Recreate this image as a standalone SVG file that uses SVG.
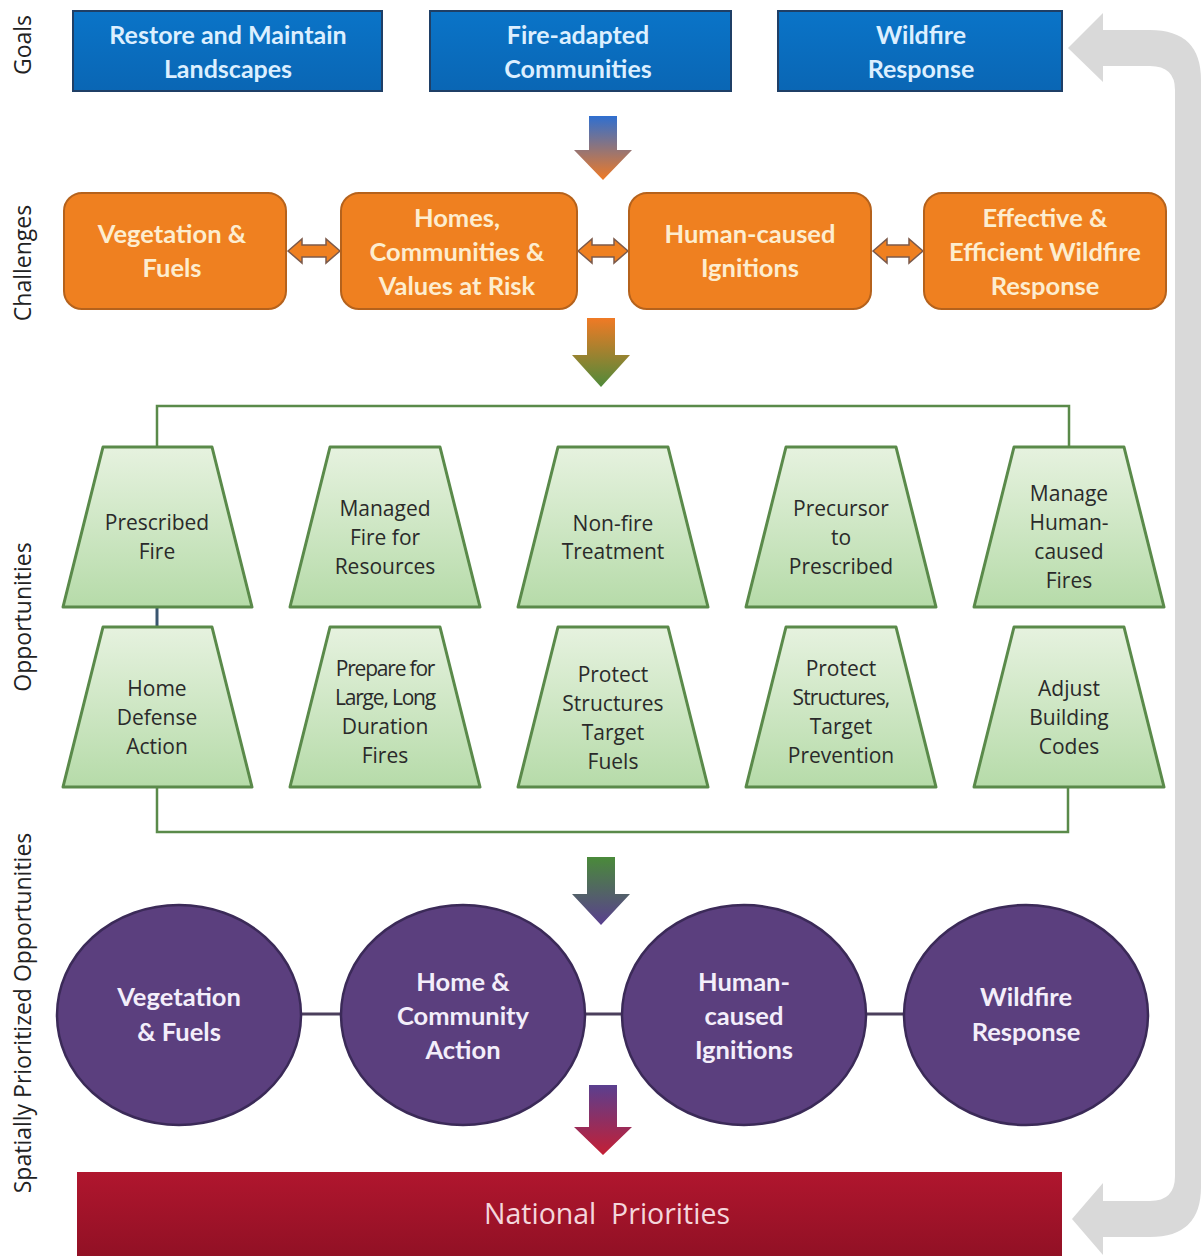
<svg xmlns="http://www.w3.org/2000/svg" width="1203" height="1256" viewBox="0 0 1203 1256">
<defs>
<linearGradient id="gBlueOr" x1="0" y1="0" x2="0" y2="1"><stop offset="0" stop-color="#2f6fd0"/><stop offset="1" stop-color="#f07a25"/></linearGradient>
<linearGradient id="gOrGr" x1="0" y1="0" x2="0" y2="1"><stop offset="0" stop-color="#f07a25"/><stop offset="1" stop-color="#4f8a3a"/></linearGradient>
<linearGradient id="gGrPu" x1="0" y1="0" x2="0" y2="1"><stop offset="0" stop-color="#4a8a3a"/><stop offset="1" stop-color="#5a3f8f"/></linearGradient>
<linearGradient id="gPuRd" x1="0" y1="0" x2="0" y2="1"><stop offset="0" stop-color="#5a3f8f"/><stop offset="1" stop-color="#c41f35"/></linearGradient>
<linearGradient id="gTrap" x1="0" y1="0" x2="0" y2="1"><stop offset="0" stop-color="#e6f2df"/><stop offset="1" stop-color="#b6dba9"/></linearGradient>
<linearGradient id="gGoal" x1="0" y1="0" x2="0" y2="1"><stop offset="0" stop-color="#0a74c8"/><stop offset="1" stop-color="#0a66b4"/></linearGradient>
<linearGradient id="gRed" x1="0" y1="0" x2="0" y2="1"><stop offset="0" stop-color="#b0162e"/><stop offset="1" stop-color="#8f1024"/></linearGradient>
<style>
.goal rect{fill:url(#gGoal);stroke:#1f3f66;stroke-width:2}
.goal text{font-family:Lato,"Liberation Sans",sans-serif;font-weight:bold;font-size:25px;fill:#dcefff;text-anchor:middle}
.chal rect{fill:#ef8020;stroke:#b5621c;stroke-width:2}
.chal text{font-family:Lato,"Liberation Sans",sans-serif;font-weight:bold;font-size:25.5px;fill:#fdedcf;text-anchor:middle}
.dbl{fill:#ef8020;stroke:#7d5a4a;stroke-width:1.5}
.opp polygon{fill:url(#gTrap);stroke:#5a8a4a;stroke-width:3;stroke-linejoin:round}
.opp text{font-family:"Open Sans","Liberation Sans",sans-serif;font-size:21px;fill:#2a2a2a;text-anchor:middle}
.sp ellipse{fill:#5b3f7e;stroke:#3b2a58;stroke-width:2.5}
.sp text{font-family:Lato,"Liberation Sans",sans-serif;font-weight:bold;font-size:25.5px;fill:#f3eefa;text-anchor:middle}
.lbl{font-family:"Open Sans","Liberation Sans",sans-serif;font-size:23px;fill:#222;text-anchor:middle}
.bracket{fill:none;stroke:#5a8a4a;stroke-width:2.5}
</style>
</defs>
<rect width="1203" height="1256" fill="#ffffff"/>

<g id="return-arrow">
<path d="M1068,48 L1103,13 L1103,30 L1150,30 Q1201,30 1201,80 L1201,1187 Q1201,1237 1150,1237 L1103,1237 L1103,1255 L1072,1219 L1103,1183 L1103,1201 L1150,1201 Q1175,1201 1175,1176 L1175,90 Q1175,66 1150,66 L1103,66 L1103,82 Z" fill="#d9d9d9"/>
</g>

<g id="side-labels">
<text class="lbl" transform="translate(31,45) rotate(-90)">Goals</text>
<text class="lbl" transform="translate(31,263) rotate(-90)">Challenges</text>
<text class="lbl" transform="translate(31,617) rotate(-90)">Opportunities</text>
<text class="lbl" transform="translate(31,1013) rotate(-90)">Spatially Prioritized Opportunities</text>
</g>

<g id="connectors">
<path d="M589,116 H617 V150 H632 L603,180 L574,150 H589 Z" fill="url(#gBlueOr)"/>
<path d="M587,318 H615 V355 H630 L601,387 L572,355 H587 Z" fill="url(#gOrGr)"/>
<path d="M587,857 H615 V894 H630 L601,925 L572,894 H587 Z" fill="url(#gGrPu)"/>
<path d="M589,1085 H617 V1127 H632 L603,1155 L574,1127 H589 Z" fill="url(#gPuRd)"/>
<path class="dbl" d="M288,251 L302,239 L302,245 L326,245 L326,239 L340,251 L326,263 L326,257 L302,257 L302,263 Z"/>
<path class="dbl" d="M578,251 L592,239 L592,245 L614,245 L614,239 L628,251 L614,263 L614,257 L592,257 L592,263 Z"/>
<path class="dbl" d="M873,251 L887,239 L887,245 L909,245 L909,239 L923,251 L909,263 L909,257 L887,257 L887,263 Z"/>
<path class="bracket" d="M157,447 V406 H1069 V447"/>
<path class="bracket" d="M157,787 V832 H1068 V787"/>
<line x1="157" y1="607" x2="157" y2="627" stroke="#3a5670" stroke-width="3"/>
<g stroke="#4b3f5c" stroke-width="3">
<line x1="301" y1="1014" x2="342" y2="1014"/>
<line x1="585" y1="1014" x2="623" y2="1014"/>
<line x1="866" y1="1014" x2="905" y2="1014"/>
</g>
</g>

<g id="goal-1" class="goal"><rect x="73" y="11" width="309" height="80"/><text x="228" y="44">Restore and Maintain</text><text x="228" y="78">Landscapes</text></g>
<g id="goal-2" class="goal"><rect x="430" y="11" width="301" height="80"/><text x="578" y="44">Fire-adapted</text><text x="578" y="78">Communities</text></g>
<g id="goal-3" class="goal"><rect x="778" y="11" width="284" height="80"/><text x="921" y="44">Wildfire</text><text x="921" y="78">Response</text></g>

<g id="chal-1" class="chal"><rect x="64" y="193" width="222" height="116" rx="18"/><text x="172" y="243">Vegetation &amp;</text><text x="172" y="277">Fuels</text></g>
<g id="chal-2" class="chal"><rect x="341" y="193" width="236" height="116" rx="18"/><text x="457" y="227">Homes,</text><text x="457" y="261">Communities &amp;</text><text x="457" y="295">Values at Risk</text></g>
<g id="chal-3" class="chal"><rect x="629" y="193" width="242" height="116" rx="18"/><text x="750" y="243">Human-caused</text><text x="750" y="277">Ignitions</text></g>
<g id="chal-4" class="chal"><rect x="924" y="193" width="242" height="116" rx="18"/><text x="1045" y="227">Effective &amp;</text><text x="1045" y="261">Efficient Wildfire</text><text x="1045" y="295">Response</text></g>

<g id="opp-1" class="opp"><polygon points="103,447 212,447 252,607 63,607"/><text x="157" y="530">Prescribed</text><text x="157" y="559">Fire</text></g>
<g id="opp-2" class="opp"><polygon points="330,447 440,447 480,607 290,607"/><text x="385" y="516">Managed</text><text x="385" y="545">Fire for</text><text x="385" y="574">Resources</text></g>
<g id="opp-3" class="opp"><polygon points="558,447 668,447 708,607 518,607"/><text x="613" y="531">Non-fire</text><text x="613" y="559">Treatment</text></g>
<g id="opp-4" class="opp"><polygon points="786,447 896,447 936,607 746,607"/><text x="841" y="516">Precursor</text><text x="841" y="545">to</text><text x="841" y="574">Prescribed</text></g>
<g id="opp-5" class="opp"><polygon points="1014,447 1124,447 1164,607 974,607"/><text x="1069" y="501">Manage</text><text x="1069" y="530">Human-</text><text x="1069" y="559">caused</text><text x="1069" y="588">Fires</text></g>

<g id="opp-6" class="opp"><polygon points="103,627 212,627 252,787 63,787"/><text x="157" y="696">Home</text><text x="157" y="725">Defense</text><text x="157" y="754">Action</text></g>
<g id="opp-7" class="opp"><polygon points="330,627 440,627 480,787 290,787"/><text x="385" y="676" letter-spacing="-1.2">Prepare for</text><text x="385" y="705" letter-spacing="-1.2">Large, Long</text><text x="385" y="734">Duration</text><text x="385" y="763">Fires</text></g>
<g id="opp-8" class="opp"><polygon points="558,627 668,627 708,787 518,787"/><text x="613" y="682">Protect</text><text x="613" y="711">Structures</text><text x="613" y="740">Target</text><text x="613" y="769">Fuels</text></g>
<g id="opp-9" class="opp"><polygon points="786,627 896,627 936,787 746,787"/><text x="841" y="676">Protect</text><text x="841" y="705" letter-spacing="-0.9">Structures,</text><text x="841" y="734">Target</text><text x="841" y="763">Prevention</text></g>
<g id="opp-10" class="opp"><polygon points="1014,627 1124,627 1164,787 974,787"/><text x="1069" y="696">Adjust</text><text x="1069" y="725">Building</text><text x="1069" y="754">Codes</text></g>

<g id="sp-1" class="sp"><ellipse cx="179" cy="1015" rx="122" ry="110"/><text x="179" y="1006">Vegetation</text><text x="179" y="1041">&amp; Fuels</text></g>
<g id="sp-2" class="sp"><ellipse cx="463" cy="1015" rx="122" ry="110"/><text x="463" y="991">Home &amp;</text><text x="463" y="1025">Community</text><text x="463" y="1059">Action</text></g>
<g id="sp-3" class="sp"><ellipse cx="744" cy="1015" rx="122" ry="110"/><text x="744" y="991">Human-</text><text x="744" y="1025">caused</text><text x="744" y="1059">Ignitions</text></g>
<g id="sp-4" class="sp"><ellipse cx="1026" cy="1015" rx="122" ry="110"/><text x="1026" y="1006">Wildfire</text><text x="1026" y="1041">Response</text></g>

<g id="national-priorities">
<rect x="77" y="1172" width="985" height="90" fill="url(#gRed)"/>
<text x="607" y="1224" font-family="'Open Sans','Liberation Sans',sans-serif" font-size="28.5" fill="#f4d6dc" text-anchor="middle" xml:space="preserve">National  Priorities</text>
</g>
</svg>
